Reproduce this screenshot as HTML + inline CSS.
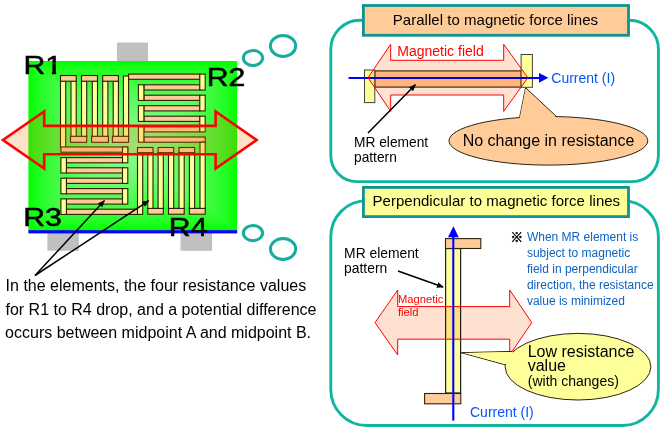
<!DOCTYPE html>
<html><head><meta charset="utf-8"><title>MR element</title>
<style>
html,body{margin:0;padding:0;background:#fff;}
body{width:660px;height:440px;overflow:hidden;position:relative;}
svg{position:absolute;left:0;top:0;display:block;will-change:transform;}
text{font-family:"Liberation Sans","Noto Sans CJK JP",sans-serif;}
</style></head><body>
<svg width="660" height="440" viewBox="0 0 660 440">
<defs>
<linearGradient id="gh" gradientUnits="userSpaceOnUse" x1="28.4" y1="0" x2="237.2" y2="0"><stop offset="0.000" stop-color="#00ff00"/><stop offset="0.050" stop-color="#20fd21"/><stop offset="0.150" stop-color="#46fc48"/><stop offset="0.250" stop-color="#62fb65"/><stop offset="0.375" stop-color="#7cfa80"/><stop offset="0.500" stop-color="#8efa93"/><stop offset="0.625" stop-color="#7cfa80"/><stop offset="0.750" stop-color="#62fb65"/><stop offset="0.850" stop-color="#46fc48"/><stop offset="0.950" stop-color="#20fd21"/><stop offset="1.000" stop-color="#00ff00"/></linearGradient>
<linearGradient id="gv" gradientUnits="userSpaceOnUse" x1="0" y1="61" x2="0" y2="231"><stop offset="0.000" stop-color="#00ff00"/><stop offset="0.050" stop-color="#20fd21"/><stop offset="0.150" stop-color="#46fc48"/><stop offset="0.250" stop-color="#62fb65"/><stop offset="0.375" stop-color="#7cfa80"/><stop offset="0.500" stop-color="#8efa93"/><stop offset="0.625" stop-color="#7cfa80"/><stop offset="0.750" stop-color="#62fb65"/><stop offset="0.850" stop-color="#46fc48"/><stop offset="0.950" stop-color="#20fd21"/><stop offset="1.000" stop-color="#00ff00"/></linearGradient>
<marker id="ak" markerWidth="10" markerHeight="8" refX="6.2" refY="2.9" orient="auto" markerUnits="userSpaceOnUse"><path d="M0,0 L7.2,2.9 L0,5.8 Z" fill="#000"/></marker>
<clipPath id="c1"><path clip-rule="evenodd" d="M0,40 H80 V80 H0 Z M44,70.4 H51.9 V77 H44 Z M56.1,70.4 H66 V77 H56.1 Z"/></clipPath>
</defs>
<!-- gray tabs -->
<rect x="117" y="42.5" width="31" height="20" fill="#c0c0c0"/>
<rect x="47.4" y="232" width="31.5" height="18.8" fill="#c0c0c0"/>
<rect x="180.5" y="232" width="31.6" height="18.8" fill="#c0c0c0"/>
<!-- green chip -->
<rect x="28.4" y="61" width="208.8" height="170" fill="url(#gh)"/>
<path d="M28.4,61 L237.2,61 L132.8,146 L237.2,231 L28.4,231 L132.8,146 Z" fill="url(#gv)"/>
<rect x="28.4" y="230.2" width="208.8" height="3.2" fill="#0000ff"/>
<!-- MR elements -->
<g>
<rect x="60.5" y="81.0" width="5.2" height="66.5" fill="#ffff99" stroke="#2a2000" stroke-width="1.1"/>
<rect x="71.0" y="81.0" width="5.2" height="55.5" fill="#ffff99" stroke="#2a2000" stroke-width="1.1"/>
<rect x="81.5" y="81.0" width="5.2" height="55.5" fill="#ffff99" stroke="#2a2000" stroke-width="1.1"/>
<rect x="92.3" y="81.0" width="5.2" height="55.5" fill="#ffff99" stroke="#2a2000" stroke-width="1.1"/>
<rect x="102.7" y="81.0" width="5.2" height="55.5" fill="#ffff99" stroke="#2a2000" stroke-width="1.1"/>
<rect x="113.2" y="81.0" width="5.2" height="55.5" fill="#ffff99" stroke="#2a2000" stroke-width="1.1"/>
<rect x="123.4" y="76.0" width="5.2" height="60.5" fill="#ffff99" stroke="#2a2000" stroke-width="1.1"/>
<rect x="60.5" y="75.5" width="15.7" height="5.7" fill="#ffcc99" stroke="#2a2000" stroke-width="1.1"/>
<rect x="81.5" y="75.5" width="16.0" height="5.7" fill="#ffcc99" stroke="#2a2000" stroke-width="1.1"/>
<rect x="102.7" y="75.5" width="15.7" height="5.7" fill="#ffcc99" stroke="#2a2000" stroke-width="1.1"/>
<rect x="70.5" y="136.3" width="16.2" height="6.0" fill="#ffcc99" stroke="#2a2000" stroke-width="1.1"/>
<rect x="91.6" y="136.3" width="16.8" height="6.0" fill="#ffcc99" stroke="#2a2000" stroke-width="1.1"/>
<rect x="112.4" y="136.3" width="16.2" height="6.0" fill="#ffcc99" stroke="#2a2000" stroke-width="1.1"/>
<rect x="128.6" y="74.1" width="71.4" height="5.2" fill="#ffcc99" stroke="#2a2000" stroke-width="1.1"/>
<rect x="143.9" y="84.8" width="56.1" height="5.2" fill="#ffcc99" stroke="#2a2000" stroke-width="1.1"/>
<rect x="143.9" y="95.2" width="56.1" height="5.2" fill="#ffcc99" stroke="#2a2000" stroke-width="1.1"/>
<rect x="143.9" y="105.7" width="56.1" height="5.2" fill="#ffcc99" stroke="#2a2000" stroke-width="1.1"/>
<rect x="143.9" y="116.2" width="56.1" height="5.2" fill="#ffcc99" stroke="#2a2000" stroke-width="1.1"/>
<rect x="143.9" y="126.7" width="56.1" height="5.2" fill="#ffcc99" stroke="#2a2000" stroke-width="1.1"/>
<rect x="143.9" y="137.0" width="61.3" height="5.2" fill="#ffcc99" stroke="#2a2000" stroke-width="1.1"/>
<rect x="199.8" y="74.1" width="5.4" height="15.9" fill="#ffff99" stroke="#2a2000" stroke-width="1.1"/>
<rect x="199.8" y="95.2" width="5.4" height="15.7" fill="#ffff99" stroke="#2a2000" stroke-width="1.1"/>
<rect x="199.8" y="116.2" width="5.4" height="15.7" fill="#ffff99" stroke="#2a2000" stroke-width="1.1"/>
<rect x="138.4" y="84.8" width="5.5" height="15.6" fill="#ffff99" stroke="#2a2000" stroke-width="1.1"/>
<rect x="138.4" y="105.7" width="5.5" height="15.7" fill="#ffff99" stroke="#2a2000" stroke-width="1.1"/>
<rect x="138.4" y="126.7" width="5.5" height="15.5" fill="#ffff99" stroke="#2a2000" stroke-width="1.1"/>
<rect x="60.9" y="147.0" width="66.9" height="5.2" fill="#ffcc99" stroke="#2a2000" stroke-width="1.1"/>
<rect x="66.4" y="157.6" width="56.3" height="5.2" fill="#ffcc99" stroke="#2a2000" stroke-width="1.1"/>
<rect x="66.4" y="167.8" width="56.3" height="5.2" fill="#ffcc99" stroke="#2a2000" stroke-width="1.1"/>
<rect x="66.4" y="178.2" width="56.3" height="5.2" fill="#ffcc99" stroke="#2a2000" stroke-width="1.1"/>
<rect x="66.4" y="188.6" width="56.3" height="5.2" fill="#ffcc99" stroke="#2a2000" stroke-width="1.1"/>
<rect x="66.4" y="198.9" width="56.3" height="5.2" fill="#ffcc99" stroke="#2a2000" stroke-width="1.1"/>
<rect x="66.4" y="209.2" width="71.3" height="5.2" fill="#ffcc99" stroke="#2a2000" stroke-width="1.1"/>
<rect x="60.9" y="157.6" width="5.5" height="15.4" fill="#ffff99" stroke="#2a2000" stroke-width="1.1"/>
<rect x="60.9" y="178.2" width="5.5" height="15.6" fill="#ffff99" stroke="#2a2000" stroke-width="1.1"/>
<rect x="60.9" y="198.9" width="5.5" height="15.5" fill="#ffff99" stroke="#2a2000" stroke-width="1.1"/>
<rect x="122.5" y="147.0" width="5.3" height="15.8" fill="#ffff99" stroke="#2a2000" stroke-width="1.1"/>
<rect x="122.5" y="167.8" width="5.3" height="15.6" fill="#ffff99" stroke="#2a2000" stroke-width="1.1"/>
<rect x="122.5" y="188.6" width="5.3" height="15.5" fill="#ffff99" stroke="#2a2000" stroke-width="1.1"/>
<rect x="137.5" y="152.5" width="5.2" height="61.9" fill="#ffff99" stroke="#2a2000" stroke-width="1.1"/>
<rect x="147.8" y="152.5" width="5.2" height="56.1" fill="#ffff99" stroke="#2a2000" stroke-width="1.1"/>
<rect x="158.1" y="152.5" width="5.2" height="56.1" fill="#ffff99" stroke="#2a2000" stroke-width="1.1"/>
<rect x="168.5" y="152.5" width="5.2" height="56.1" fill="#ffff99" stroke="#2a2000" stroke-width="1.1"/>
<rect x="179.0" y="152.5" width="5.2" height="56.1" fill="#ffff99" stroke="#2a2000" stroke-width="1.1"/>
<rect x="189.4" y="152.5" width="5.2" height="56.1" fill="#ffff99" stroke="#2a2000" stroke-width="1.1"/>
<rect x="200.0" y="142.2" width="5.2" height="66.4" fill="#ffff99" stroke="#2a2000" stroke-width="1.1"/>
<rect x="137.5" y="147.5" width="15.5" height="5.2" fill="#ffcc99" stroke="#2a2000" stroke-width="1.1"/>
<rect x="158.1" y="147.5" width="15.6" height="5.2" fill="#ffcc99" stroke="#2a2000" stroke-width="1.1"/>
<rect x="179.0" y="147.5" width="15.6" height="5.2" fill="#ffcc99" stroke="#2a2000" stroke-width="1.1"/>
<rect x="147.8" y="208.4" width="15.5" height="5.8" fill="#ffcc99" stroke="#2a2000" stroke-width="1.1"/>
<rect x="168.5" y="208.4" width="15.7" height="5.8" fill="#ffcc99" stroke="#2a2000" stroke-width="1.1"/>
<rect x="189.4" y="208.4" width="15.8" height="5.8" fill="#ffcc99" stroke="#2a2000" stroke-width="1.1"/>
</g>
<!-- big red arrow -->
<polygon points="2.9,140 44.2,111.4 44.2,125.9 215.6,125.9 215.6,111.4 256.6,140 215.6,168.6 215.6,154.3 44.2,154.3 44.2,168.6" fill="rgba(255,116,0,0.216)"/>
<polygon points="2.9,140 44.2,111.4 44.2,125.9 215.6,125.9 215.6,111.4 256.6,140 215.6,168.6 215.6,154.3 44.2,154.3 44.2,168.6" fill="none" stroke="#ff0000" stroke-width="2.6" stroke-linejoin="miter"/>
<!-- labels -->
<g font-size="25" fill="#000" stroke="#000" stroke-width="0.5">
<g clip-path="url(#c1)"><text transform="translate(23.4,73.6) scale(1.21,1)">R1</text></g>
<text transform="translate(206.7,86.2) scale(1.21,1)">R2</text>
<text transform="translate(23.2,225.5) scale(1.21,1)">R3</text>
<text transform="translate(168.8,236.1) scale(1.21,1)">R4</text>
</g>
<!-- bubbles -->
<g fill="none" stroke="#18ac9c" stroke-width="3">
<ellipse cx="252.95" cy="57.95" rx="9.65" ry="7.55"/>
<ellipse cx="283.05" cy="46" rx="12.65" ry="10.4"/>
<ellipse cx="252.95" cy="233.1" rx="9.65" ry="7.55"/>
<ellipse cx="283.05" cy="249" rx="12.65" ry="10.4"/>
</g>
<!-- pointer arrows -->
<line x1="35" y1="275.5" x2="104.3" y2="200.8" stroke="#000" stroke-width="1.5" marker-end="url(#ak)"/>
<line x1="35" y1="275.5" x2="148.6" y2="200.8" stroke="#000" stroke-width="1.5" marker-end="url(#ak)"/>
<g font-size="16" fill="#000">
<text x="5.6" y="290.5">In the elements, the four resistance values</text>
<text x="5.5" y="314.5">for R1 to R4 drop, and a potential difference</text>
<text x="5.1" y="338.4">occurs between midpoint A and midpoint B.</text>
</g>

<!-- ============ panel 1 ============ -->
<path d="M359.8,20.2 H629.4 A29,29 0 0 1 658.4,49.2 V155.6 A26,26 0 0 1 632.4,181.6 H356.8 A26,26 0 0 1 330.8,155.6 V49.2 A29,29 0 0 1 359.8,20.2 Z" fill="#fff" stroke="#10b5a0" stroke-width="2.9"/>
<rect x="363.4" y="5.5" width="265.1" height="29.8" fill="#ffcc99" stroke="#109490" stroke-width="2.8"/>
<text x="392.8" y="24.8" font-size="15" fill="#000" textLength="205.2" lengthAdjust="spacing">Parallel to magnetic force lines</text>
<!-- MR bar -->
<rect x="374.8" y="70.9" width="146.5" height="16.2" fill="#ffcc99" stroke="#4a3018" stroke-width="1.2"/>
<rect x="364.5" y="70" width="10.3" height="32.6" fill="#ffff99" stroke="#404040" stroke-width="1"/>
<rect x="521.1" y="54.5" width="11.3" height="32.8" fill="#ffff99" stroke="#404040" stroke-width="1"/>
<!-- blue current arrow -->
<line x1="348.6" y1="78" x2="541" y2="78" stroke="#0000ff" stroke-width="2"/>
<polygon points="539,73 548.3,77.8 539,82.7" fill="#0000ff"/>
<!-- red double arrow -->
<polygon points="368,77.7 390.7,44.3 390.7,60.3 503.7,60.3 503.7,44.3 527.9,77.7 503.7,111.4 503.7,95 390.7,95 390.7,111.4" fill="#ffe1d2" style="mix-blend-mode:multiply"/>
<polygon points="368,77.7 390.7,44.3 390.7,60.3 503.7,60.3 503.7,44.3 527.9,77.7 503.7,111.4 503.7,95 390.7,95 390.7,111.4" fill="none" stroke="#ff0000" stroke-width="1"/>
<text x="397.3" y="56" font-size="14" fill="#ff0000">Magnetic field</text>
<text x="551.3" y="83" font-size="14" fill="#0055ff">Current (I)</text>
<!-- pointer -->
<line x1="368" y1="133" x2="415.3" y2="84.8" stroke="#000" stroke-width="1.5" marker-end="url(#ak)"/>
<g font-size="13.75" fill="#000"><text x="354" y="146.7">MR element</text><text x="354" y="161.6">pattern</text></g>
<!-- callout -->
<path d="M519.5,118 L525.6,87.7 L557.5,117.5" fill="#ffcc99" stroke="#302010" stroke-width="1"/>
<ellipse cx="548.4" cy="140.8" rx="99.4" ry="24.3" fill="#ffcc99" stroke="#302010" stroke-width="1"/>
<path d="M519.5,119 L525.6,88.7 L557.5,118.5 Z" fill="#ffcc99"/>
<text x="462.7" y="145.9" font-size="16" fill="#000">No change in resistance</text>

<!-- ============ panel 2 ============ -->
<rect x="330.8" y="200.6" width="327.6" height="224.9" rx="36" ry="36" fill="#fff" stroke="#10b5a0" stroke-width="2.9"/>
<rect x="363.4" y="187.4" width="265.1" height="29.2" fill="#ffff99" stroke="#109490" stroke-width="2.8"/>
<text x="372.5" y="205.6" font-size="15" fill="#000" textLength="247.6" lengthAdjust="spacing">Perpendicular to magnetic force lines</text>
<!-- MR vertical -->
<rect x="445.6" y="248.5" width="15" height="144.5" fill="#ffff99" stroke="#202020" stroke-width="1.2"/>
<rect x="445.5" y="238.6" width="35.3" height="9.9" fill="#ffcc99" stroke="#302010" stroke-width="1.1"/>
<rect x="424.6" y="393.5" width="36.2" height="10.3" fill="#ffcc99" stroke="#302010" stroke-width="1.1"/>
<!-- red double arrow -->
<polygon points="375,322.6 397.7,290 397.7,306.6 509.7,306.6 509.7,290 531.8,322.6 509.7,355 509.7,339.2 397.7,339.2 397.7,355" fill="#ffe1d2" style="mix-blend-mode:multiply"/>
<polygon points="375,322.6 397.7,290 397.7,306.6 509.7,306.6 509.7,290 531.8,322.6 509.7,355 509.7,339.2 397.7,339.2 397.7,355" fill="none" stroke="#ff0000" stroke-width="1"/>
<g font-size="11.2" fill="#ff0000"><text x="398" y="302.8">Magnetic</text><text x="398" y="316.4">field</text></g>
<!-- blue -->
<line x1="453.3" y1="236" x2="453.3" y2="420.6" stroke="#0000ff" stroke-width="2.1"/>
<polygon points="448,237.3 453.4,226.3 458.8,237.3" fill="#0000ff"/>
<text x="470" y="416.7" font-size="14" fill="#0055ff">Current (I)</text>
<g font-size="13.85" fill="#000"><text x="344.1" y="257.8">MR element</text><text x="344.1" y="272.7">pattern</text></g>
<line x1="398" y1="271" x2="443" y2="287" stroke="#000" stroke-width="1.5" marker-end="url(#ak)"/>
<text x="510.4" y="242" font-size="12.5" font-weight="bold" fill="#000" stroke="#000" stroke-width="0.5">※</text>
<g font-size="12" fill="#0a62c4">
<text x="526.9" y="241">When MR element is</text>
<text x="526.9" y="257">subject to magnetic</text>
<text x="526.9" y="273">field in perpendicular</text>
<text x="526.9" y="289">direction, the resistance</text>
<text x="526.9" y="305">value is minimized</text>
</g>
<!-- callout 2 -->
<path d="M512,351.4 L461.2,352.7 L505.3,364.8" fill="#ffff99" stroke="#302010" stroke-width="1"/>
<ellipse cx="578" cy="366.7" rx="72.9" ry="33.3" fill="#ffff99" stroke="#302010" stroke-width="1"/>
<path d="M513,352 L464,353 L506.5,364.6 Z" fill="#ffff99"/>
<text x="527.7" y="356.8" font-size="16" fill="#000">Low resistance</text>
<text x="527.7" y="370.5" font-size="16" fill="#000">value</text>
<text x="527.8" y="385.8" font-size="14" fill="#000">(with changes)</text>
</svg>
</body></html>
